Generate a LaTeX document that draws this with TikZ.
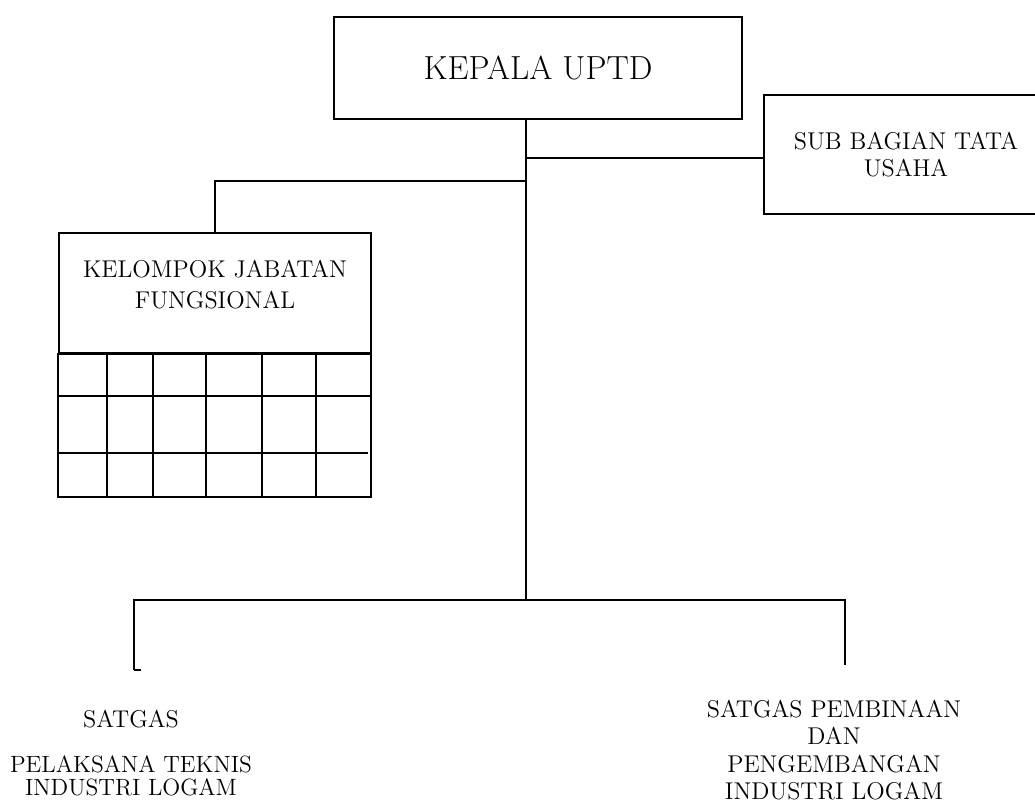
\documentclass[tikz,border=0pt]{standalone}
\usepackage{tikz}
\usetikzlibrary{positioning, calc}

\tikzset{
    unitbox/.style={draw, line width=1pt, inner sep=0pt, align=center},
    bigtext/.style={font=\fontsize{19}{23}\selectfont},
    smalltext/.style={font=\fontsize{13.8}{15.5}\selectfont, align=center, inner sep=0pt}
}

\begin{document}
\begin{tikzpicture}[x=0.02cm, y=-0.02cm, line width=1pt]
        \useasboundingbox (0,0) rectangle (1035,803);

        % Nodes
        \node[unitbox, bigtext, minimum width=8.16cm, minimum height=2.04cm] (kepala) at (538,68) {KEPALA UPTD};
        \node[smalltext, minimum width=5.64cm, minimum height=2.34cm, font=\fontsize{13.8}{15.8}\selectfont] (sub) at (906,154.5) {SUB BAGIAN TATA\\USAHA};
        \node[unitbox, smalltext, minimum width=6.24cm, minimum height=2.4cm, font=\fontsize{13.8}{17.6}\selectfont] (kelompok) at (215,293) {KELOMPOK JABATAN\\FUNGSIONAL\\[-8pt]};
        \node[smalltext] (satgas) at (131,719) {SATGAS};
        \node[smalltext, font=\fontsize{13.4}{13}\selectfont] (pelaksana) at (131,776) {PELAKSANA TEKNIS\\INDUSTRI LOGAM};
        \node[smalltext] (pembinaan) at (834,750) {SATGAS PEMBINAAN\\DAN\\PENGEMBANGAN\\INDUSTRI LOGAM};

        % Open box of the sub bagian (runs off the page)
        \coordinate (edge) at (1035,0);
        \draw (sub.north west -| edge) -- (sub.north west) -- (sub.south west) -- (sub.south west -| edge);

        % Grid under kelompok jabatan
        \draw (kelompok.south west) rectangle (371,497);
        \draw (59,396) -- (371,396);
        \draw (57,453) -- (368,453);
        \foreach \x in {107,153,206,262,316} {
                \draw (\x,353) -- (\x,497);
        }

        % Edges
        \coordinate (top) at (526,119);
        \coordinate (fork) at (526,600);
        \coordinate (j1) at (526,158);
        \coordinate (j2) at (526,181);
        \coordinate (leftend) at (134,670);
        \coordinate (rightend) at (845,665);
        \draw (top) -- (fork);
        \draw (j1) -- (j1 -| sub.west);
        \draw (j2) -| (kelompok.north);
        \draw (leftend) -- ++(7,0);
        \draw (leftend) |- (fork) -| (rightend);
\end{tikzpicture}
\end{document}
